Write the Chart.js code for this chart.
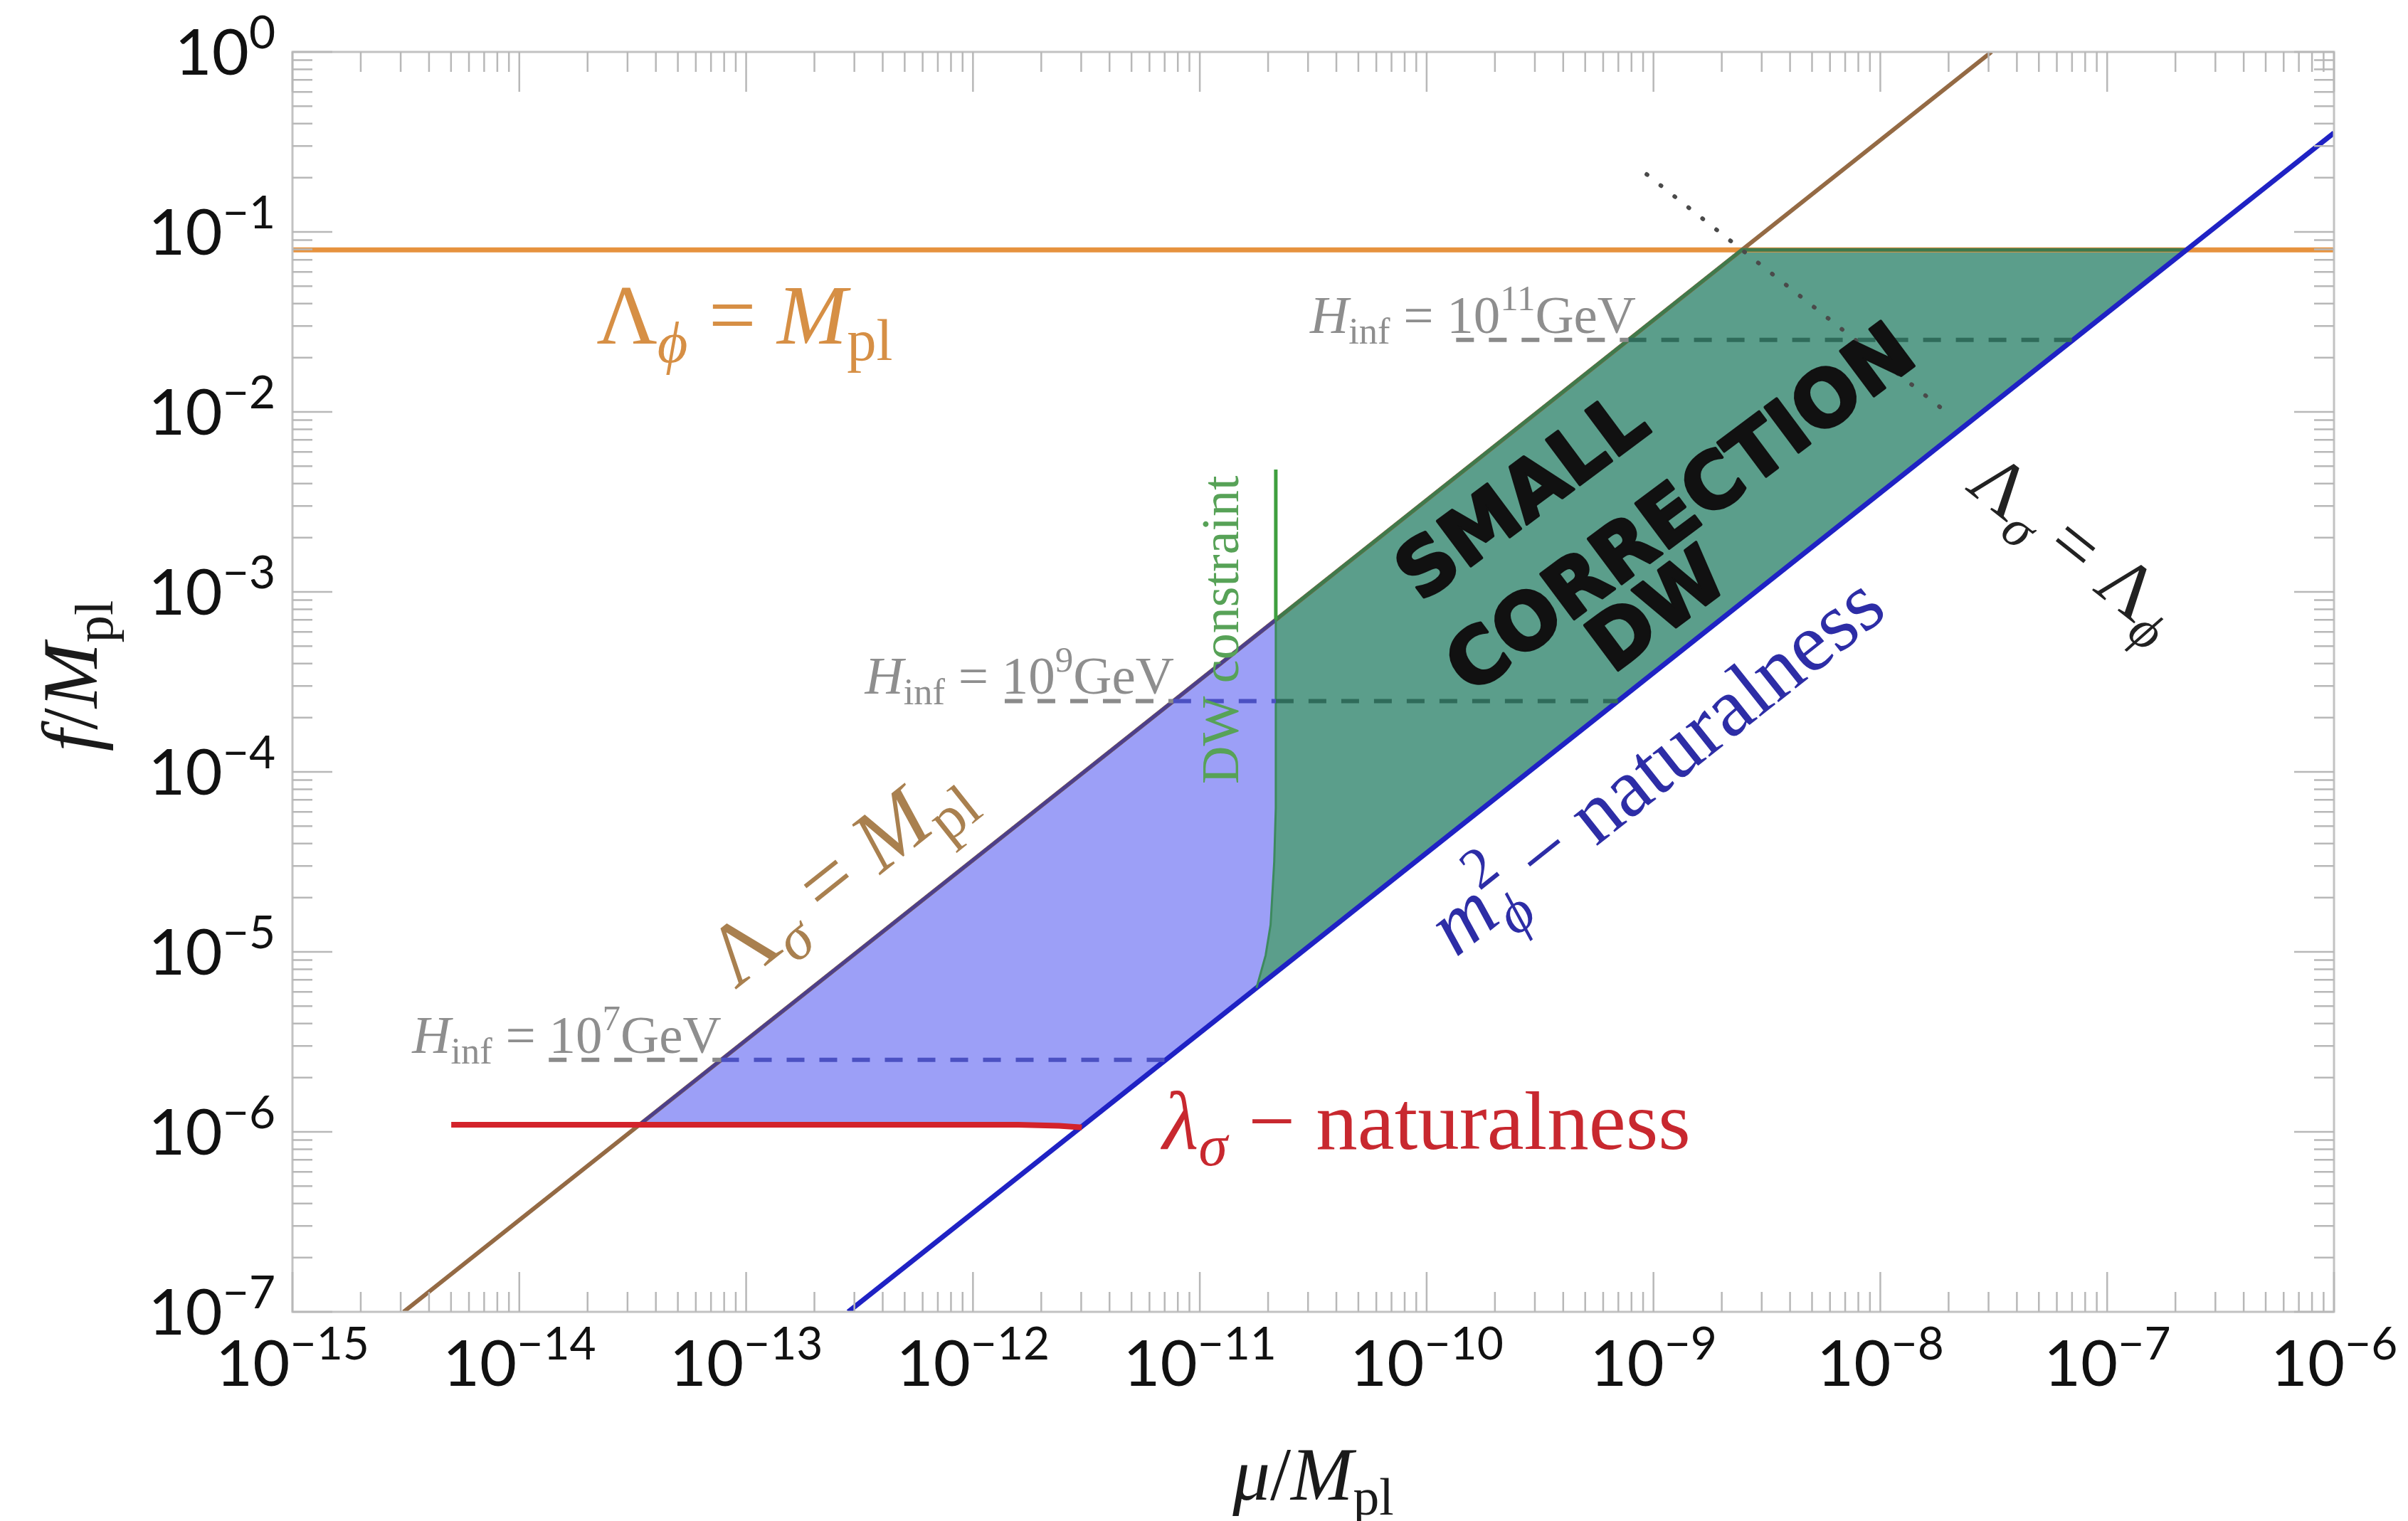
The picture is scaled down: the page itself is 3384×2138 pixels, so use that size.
<!DOCTYPE html>
<html>
<head>
<meta charset="utf-8">
<script src="https://cdn.jsdelivr.net/npm/chart.js@4.4.1/dist/chart.umd.min.js"></script>
<style>
  html, body { margin: 0; padding: 0; background: #fff; }
  #wrap { width: 3384px; height: 2138px; }
</style>
</head>
<body>
<div id="wrap"><canvas id="chart" width="3384" height="2138"></canvas></div>
<script>
// every curve is given as [log10(mu/Mpl), log10(f/Mpl)]
const xDecades = [-15, -14, -13, -12, -11, -10, -9, -8, -7, -6];
const yDecades = [0, -1, -2, -3, -4, -5, -6, -7];

const lambdaSigmaMpl = [[-14.51, -7], [-7.51, 0]];            // brown diagonal
const mPhiNatural    = [[-12.55, -7], [-6, -0.45]];           // blue diagonal
const lambdaPhiMpl   = [[-15, -1.1], [-6, -1.1]];             // orange horizontal
const lambdaSigmaNat = [[-14.30, -5.96], [-11.80, -5.96], [-11.62, -5.966], [-11.52, -5.975]]; // red
const dwLine         = [[-10.665, -2.32], [-10.665, -3.155]];
const dwEdge         = [[-10.665, -3.155], [-10.665, -4.2], [-10.672, -4.5], [-10.688, -4.85], [-10.71, -5.02], [-10.75, -5.2]];
const purpleEdge     = [[-13.47, -5.96], [-10.665, -3.155]];
const greenEdge      = [[-10.665, -3.155], [-8.61, -1.1], [-6.65, -1.1]];

const blueRegion  = [[-13.47, -5.96], [-11.80, -5.96], [-11.62, -5.966], [-11.52, -5.975], [-10.75, -5.2],
                     [-10.71, -5.02], [-10.688, -4.85], [-10.672, -4.5], [-10.665, -4.2], [-10.665, -3.155], [-13.47, -5.96]];
const greenRegion = [[-10.665, -3.155], [-8.61, -1.1], [-6.65, -1.1], [-10.75, -5.2], [-10.71, -5.02],
                     [-10.688, -4.85], [-10.672, -4.5], [-10.665, -4.2], [-10.665, -3.155]];

// H_inf lines, split where they cross the regions
const hinf7Gray   = [[-13.87, -5.6], [-13.11, -5.6]];
const hinf7Blue   = [[-13.11, -5.6], [-11.15, -5.6]];
const hinf9Gray   = [[-11.86, -3.607], [-11.117, -3.607]];
const hinf9Blue   = [[-11.117, -3.607], [-10.665, -3.607]];
const hinf9Green  = [[-10.665, -3.607], [-9.157, -3.607]];
const hinf11Gray  = [[-9.87, -1.6], [-9.11, -1.6]];
const hinf11Green = [[-9.11, -1.6], [-7.15, -1.6]];

const sigmaEqPhi = [[-9.03, -0.68], [-7.70, -2.01]];          // dotted

const toPts = arr => arr.map(([x, y]) => ({ x: Math.pow(10, x), y: Math.pow(10, y) }));

function line(data, color, width, order, extra) {
  return Object.assign({
    data: toPts(data), borderColor: color, borderWidth: width, pointRadius: 0,
    fill: false, tension: 0, order: order, borderCapStyle: 'butt'
  }, extra || {});
}
function dashed(data, color) {
  return line(data, color, 6, 2, { borderDash: [25, 21] });
}
function region(data, color) {
  return { data: toPts(data), backgroundColor: color, borderWidth: 0, pointRadius: 0,
           fill: 'shape', tension: 0, order: 9 };
}

const serif = '"Liberation Serif", "DejaVu Serif", serif';
const tickFont = 'Lato, "Open Sans", sans-serif';

// runs: [text, style, scale, rise, stacked]
const annotations = [
  { runs: [['Λ', 'r'], ['ϕ', 'i', 0.7, -0.22], [' = ', 'r'], ['M', 'i'], ['pl', 'r', 0.7, -0.2]],
    at: [-13.66, -1.62], size: 118, color: '#d68f45', align: 'left', rot: 0 },
  { runs: [['H', 'i'], ['inf', 'r', 0.7, -0.2], [' = ', 'r'], ['10', 'r'], ['11', 'r', 0.68, 0.42], ['GeV', 'r']],
    at: [-10.514, -1.56], size: 75, color: '#8e8e8e', align: 'left', rot: 0 },
  { runs: [['H', 'i'], ['inf', 'r', 0.7, -0.2], [' = ', 'r'], ['10', 'r'], ['9', 'r', 0.68, 0.42], ['GeV', 'r']],
    at: [-12.476, -3.567], size: 75, color: '#8e8e8e', align: 'left', rot: 0 },
  { runs: [['H', 'i'], ['inf', 'r', 0.7, -0.2], [' = ', 'r'], ['10', 'r'], ['7', 'r', 0.68, 0.42], ['GeV', 'r']],
    at: [-14.472, -5.56], size: 75, color: '#8e8e8e', align: 'left', rot: 0 },
  { runs: [['DW constraint', 'r']],
    at: [-10.907, -3.21], size: 74, color: '#57a257', align: 'center', mid: true, rot: -Math.PI / 2 },
  { runs: [['Λ', 'r'], ['σ', 'i', 0.7, -0.2], [' = ', 'r'], ['M', 'i'], ['pl', 'r', 0.7, -0.2]],
    at: [-12.60, -4.56], size: 122, color: '#a9804f', align: 'center', mid: true, rot: 'up' },
  { runs: [['m', 'i'], ['ϕ', 'i', 0.7, -0.25], ['2', 'r', 0.7, 0.45, true], [' − naturalness', 'r']],
    at: [-8.992, -3.96], size: 117, color: '#2d2da6', align: 'center', mid: true, rot: 'up' },
  { runs: [['λ', 'i'], ['σ', 'i', 0.7, -0.2], [' − naturalness', 'r']],
    at: [-11.164, -6.094], size: 117, color: '#c8282f', align: 'left', rot: 0 },
  { runs: [['Λ', 'r'], ['σ', 'i', 0.7, -0.2], [' = ', 'r'], ['Λ', 'r'], ['ϕ', 'i', 0.7, -0.2]],
    at: [-7.138, -2.74], size: 107, color: '#222222', align: 'center', mid: true, rot: 'down' }
];

const scribbles = [
  { text: 'SMALL', at: [-9.567, -2.494] },
  { text: 'CORRECTION', at: [-8.868, -2.561] },
  { text: 'DW', at: [-8.971, -3.123] }
];

function fontFor(style, px) {
  return (style === 'i' ? 'italic ' : '') + px.toFixed(1) + 'px ' + serif;
}

function drawRuns(ctx, runs, size, x, y, angle, align, mid, color) {
  ctx.save();
  ctx.translate(x, y);
  ctx.rotate(angle);
  ctx.fillStyle = color;
  ctx.textBaseline = 'alphabetic';
  let w = 0, prevX = 0;
  const parts = runs.map(([t, st, sc, rise, stacked]) => {
    ctx.font = fontFor(st, size * (sc || 1));
    const m = ctx.measureText(t).width;
    const p = { t: t, font: ctx.font, rise: (rise || 0) * size };
    if (stacked) { p.x = prevX; w = Math.max(w, prevX + m); }
    else { p.x = w; prevX = w; w += m; }
    return p;
  });
  const x0 = align === 'center' ? -w / 2 : align === 'right' ? -w : 0;
  const y0 = mid ? size * 0.33 : 0;
  parts.forEach(p => { ctx.font = p.font; ctx.fillText(p.t, x0 + p.x, y0 - p.rise); });
  ctx.restore();
}

const framePlugin = {
  id: 'frame',
  afterDatasetsDraw(chart) {
    const ctx = chart.ctx, a = chart.chartArea;
    const xs = chart.scales.x, ys = chart.scales.y;
    ctx.save();
    ctx.strokeStyle = '#c2c2c2';
    ctx.lineWidth = 3;
    ctx.strokeRect(a.left, a.top, a.right - a.left, a.bottom - a.top);
    ctx.strokeStyle = '#b8b8b8';
    ctx.beginPath();
    xDecades.forEach(d => {
      for (let m = 1; m <= 9; m++) {
        const v = m * Math.pow(10, d);
        if (v > 1e-6 * 1.0001) break;
        const px = xs.getPixelForValue(v), len = m === 1 ? 56 : 28;
        ctx.moveTo(px, a.bottom); ctx.lineTo(px, a.bottom - len);
        ctx.moveTo(px, a.top); ctx.lineTo(px, a.top + len);
      }
    });
    yDecades.forEach(d => {
      for (let m = 1; m <= 9; m++) {
        const v = m * Math.pow(10, d);
        if (v > 1.0001) break;
        const py = ys.getPixelForValue(v), len = m === 1 ? 56 : 28;
        ctx.moveTo(a.left, py); ctx.lineTo(a.left + len, py);
        ctx.moveTo(a.right, py); ctx.lineTo(a.right - len, py);
      }
    });
    ctx.lineWidth = 2.5;
    ctx.stroke();
    ctx.restore();
  }
};

const labelPlugin = {
  id: 'labels',
  afterDraw(chart) {
    const ctx = chart.ctx, a = chart.chartArea;
    const xs = chart.scales.x, ys = chart.scales.y;
    const px = e => xs.getPixelForValue(Math.pow(10, e));
    const py = e => ys.getPixelForValue(Math.pow(10, e));
    const slope = Math.atan2(py(-1) - py(0), px(-14) - px(-15));
    const expText = e => (e < 0 ? '−' + Math.abs(e) : String(e));

    ctx.save();
    ctx.fillStyle = '#111';
    ctx.textBaseline = 'alphabetic';
    // x tick labels
    xDecades.forEach(e => {
      ctx.font = '90px ' + tickFont;
      const w1 = ctx.measureText('10').width;
      ctx.font = '64px ' + tickFont;
      const w2 = ctx.measureText(expText(e)).width;
      const x0 = px(e) - (w1 + w2) / 2;
      ctx.font = '90px ' + tickFont;
      ctx.fillText('10', x0, a.bottom + 104);
      ctx.font = '64px ' + tickFont;
      ctx.fillText(expText(e), x0 + w1, a.bottom + 67);
    });
    // y tick labels
    yDecades.forEach(e => {
      ctx.font = '64px ' + tickFont;
      const w2 = ctx.measureText(expText(e)).width;
      ctx.font = '90px ' + tickFont;
      const w1 = ctx.measureText('10').width;
      const right = a.left - 24;
      ctx.fillText('10', right - w2 - w1, py(e) + 32);
      ctx.font = '64px ' + tickFont;
      ctx.fillText(expText(e), right - w2, py(e) - 5);
    });
    ctx.restore();

    // axis titles
    drawRuns(ctx, [['μ', 'i'], ['/', 'r'], ['M', 'i'], ['pl', 'r', 0.7, -0.2]], 105,
             (a.left + a.right) / 2, 2108, 0, 'center', false, '#1a1a1a');
    drawRuns(ctx, [['f', 'i'], ['/', 'r'], ['M', 'i'], ['pl', 'r', 0.7, -0.2]], 110,
             100, 950, -Math.PI / 2, 'center', true, '#1a1a1a');

    // curve labels
    annotations.forEach(l => {
      const ang = l.rot === 'up' ? -slope : l.rot === 'down' ? slope : l.rot;
      drawRuns(ctx, l.runs, l.size, px(l.at[0]), py(l.at[1]), ang, l.align, l.mid, l.color);
    });

    // hand-written note
    scribbles.forEach(s => {
      ctx.save();
      ctx.translate(px(s.at[0]), py(s.at[1]));
      ctx.rotate(-0.64);
      ctx.font = 'bold 108px "DejaVu Sans", sans-serif';
      ctx.textAlign = 'center';
      ctx.textBaseline = 'middle';
      ctx.fillStyle = '#111';
      ctx.strokeStyle = '#111';
      ctx.lineWidth = 4;
      ctx.lineJoin = 'round';
      ctx.strokeText(s.text, 0, 0);
      ctx.fillText(s.text, 0, 0);
      ctx.restore();
    });
  }
};

new Chart(document.getElementById('chart'), {
  type: 'line',
  data: {
    datasets: [
      region(blueRegion, '#9c9ff7'),
      region(greenRegion, '#5b9e8b'),
      line(lambdaPhiMpl, '#e6923e', 7, 8),
      line(lambdaSigmaMpl, '#946a44', 6, 7),
      line(purpleEdge, '#4c3f8c', 5, 6),
      line(greenEdge, '#3f7a4c', 5, 6),
      line(mPhiNatural, '#1f22c4', 7, 5),
      line(lambdaSigmaNat, '#d3232b', 8, 4),
      line(dwLine, '#3f9f3f', 5, 3),
      line(dwEdge, '#3d8a5e', 3, 3),
      dashed(hinf7Gray, '#8a8a8a'),
      dashed(hinf7Blue, '#4b50c2'),
      dashed(hinf9Gray, '#8a8a8a'),
      dashed(hinf9Blue, '#4b50c2'),
      dashed(hinf9Green, '#2f6b5a'),
      dashed(hinf11Gray, '#8a8a8a'),
      dashed(hinf11Green, '#2f6b5a'),
      line(sigmaEqPhi, '#4a4a4a', 6, 1, { borderDash: [1, 24], borderCapStyle: 'round' })
    ]
  },
  options: {
    responsive: false,
    animation: false,
    devicePixelRatio: 1,
    events: [],
    layout: { padding: { left: 411, right: 104, top: 73, bottom: 294 } },
    plugins: { legend: { display: false }, tooltip: { enabled: false } },
    scales: {
      x: { type: 'logarithmic', min: 1e-15, max: 1e-6, display: false },
      y: { type: 'logarithmic', min: 1e-7, max: 1, display: false }
    }
  },
  plugins: [framePlugin, labelPlugin]
});
</script>
</body>
</html>
